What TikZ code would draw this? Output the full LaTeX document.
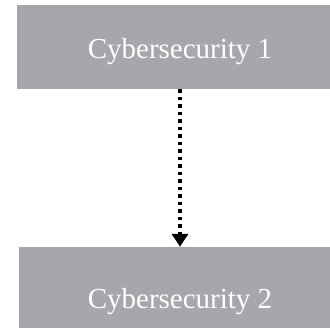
\documentclass[tikz,border=0pt]{standalone}
\usepackage{fontspec}
\setmainfont{Liberation Serif}
\usetikzlibrary{arrows.meta}
\definecolor{boxgray}{RGB}{166,167,171}
\tikzset{
  graybox/.style={fill=boxgray, draw=none, inner sep=0pt, rectangle},
  boxlabel/.style={text=white, inner sep=0pt, font=\fontsize{29}{34}\selectfont},
  dotarrow/.style={line width=3.5pt, dash pattern=on 3.5pt off 4pt, -{Triangle[width=16pt,length=13pt]}}
}
\begin{document}
\begin{tikzpicture}
\useasboundingbox (0,0) rectangle (330pt,328pt);
\node[graybox, minimum width=313pt, minimum height=84pt] (b1) at (173.5pt,281pt) {};
\node[boxlabel, anchor=base] (t1) at (180pt,269pt) {Cybersecurity 1};
\node[graybox, minimum width=311pt, minimum height=81pt] (b2) at (174.5pt,40.5pt) {};
\node[boxlabel, anchor=base] (t2) at (180pt,19pt) {Cybersecurity 2};
\draw[dotarrow] (b1.south -| t1) -- (b2.north -| t1);
\end{tikzpicture}
\end{document}
